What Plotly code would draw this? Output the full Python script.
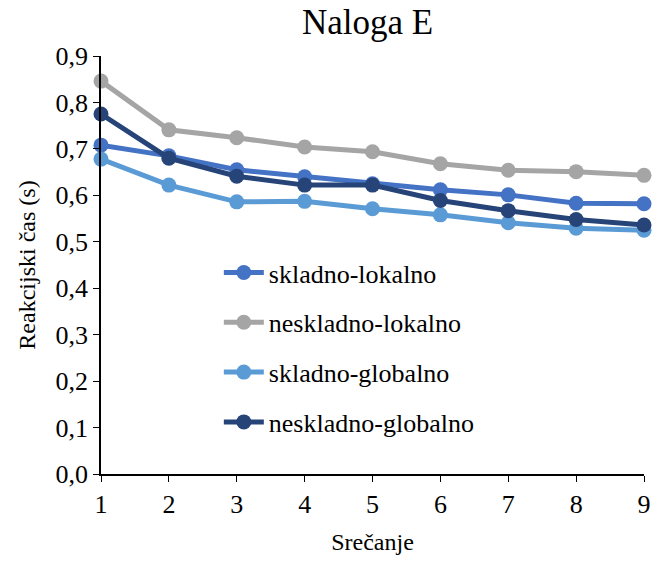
import plotly.graph_objects as go

srecanje = [1, 2, 3, 4, 5, 6, 7, 8, 9]
skladno_lokalno = [0.708, 0.685, 0.655, 0.640, 0.625, 0.612, 0.601, 0.583, 0.582]
neskladno_lokalno = [0.846, 0.741, 0.724, 0.704, 0.694, 0.668, 0.654, 0.651, 0.643]
skladno_globalno = [0.678, 0.622, 0.586, 0.587, 0.571, 0.558, 0.541, 0.529, 0.525]
neskladno_globalno = [0.775, 0.680, 0.641, 0.622, 0.622, 0.589, 0.567, 0.548, 0.536]

series = [
    ("skladno-lokalno", skladno_lokalno, "#4472C4"),
    ("neskladno-lokalno", neskladno_lokalno, "#A5A5A5"),
    ("skladno-globalno", skladno_globalno, "#5B9BD5"),
    ("neskladno-globalno", neskladno_globalno, "#264478"),
]

FONT = "Liberation Serif, Times New Roman, serif"

fig = go.Figure()
for name, vals, color in series:
    fig.add_trace(go.Scatter(
        x=srecanje, y=vals, name=name, mode="lines+markers",
        line=dict(color=color, width=5),
        marker=dict(color=color, size=15),
        cliponaxis=False, legendgroup=name,
    ))

fig.update_layout(
    width=667, height=563,
    margin=dict(l=101, r=23, t=56, b=87),
    paper_bgcolor="white", plot_bgcolor="white",
    font=dict(family=FONT, color="black", size=26),
    title=dict(text="Naloga E", x=0.551, xanchor="center", y=0.962, yanchor="middle",
               font=dict(size=35, family=FONT, color="black")),
    showlegend=True,
    legend=dict(x=0.217, y=0.538, xanchor="left", yanchor="top",
                bgcolor="rgba(0,0,0,0)", font=dict(size=26, family=FONT),
                tracegroupgap=13, traceorder="grouped", itemwidth=40),
    xaxis=dict(range=[1, 9], tickvals=srecanje, ticktext=[str(v) for v in srecanje],
               showline=True, linecolor="black", linewidth=1.5, ticks="outside",
               ticklen=6, tickcolor="black", showgrid=False, zeroline=False,
               title=dict(text="Srečanje", font=dict(size=24, family=FONT), standoff=15),
               tickfont=dict(size=26, family=FONT)),
    yaxis=dict(range=[0, 0.9], tickvals=[0, 0.1, 0.2, 0.3, 0.4, 0.5, 0.6, 0.7, 0.8, 0.9],
               ticktext=["0,0", "0,1", "0,2", "0,3", "0,4", "0,5", "0,6", "0,7", "0,8", "0,9"],
               showline=True, linecolor="black", linewidth=1.5, ticks="outside",
               ticklen=6, tickcolor="black", showgrid=False, zeroline=False,
               title=dict(text="Reakcijski čas (s)", font=dict(size=24, family=FONT), standoff=13),
               tickfont=dict(size=26, family=FONT)),
)

fig.write_html("out.html")
